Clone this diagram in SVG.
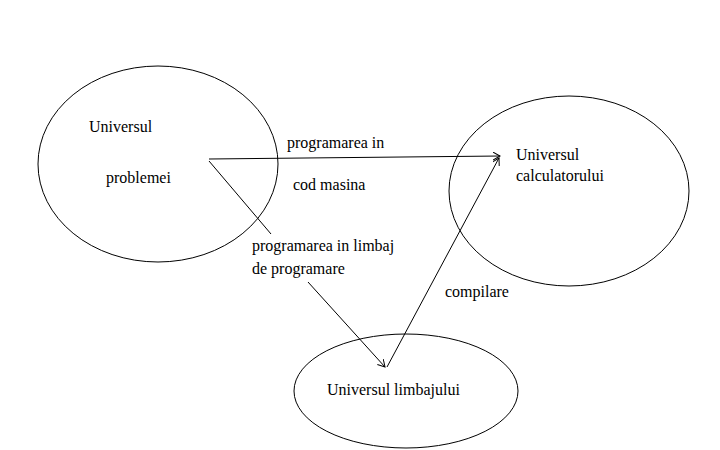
<svg xmlns="http://www.w3.org/2000/svg" width="720" height="450" viewBox="0 0 720 450">
<style>
.n{fill:none;stroke:#000;stroke-width:1}
.c{fill:none;stroke:#000;stroke-width:1}
.t{font-family:'Liberation Serif','DejaVu Serif',serif;font-size:16px;fill:#000}
</style>
<defs>
<marker id="a" markerWidth="10" markerHeight="10" refX="7" refY="4" orient="auto" markerUnits="userSpaceOnUse">
<polyline points="0,0 7,4 0,8" fill="none" stroke="#000" stroke-width="1"/>
</marker>
</defs>
<rect width="720" height="450" fill="#fff"/>
<g id="problemei" class="t">
<ellipse class="n" cx="158" cy="164" rx="120" ry="98"/>
<text x="89" y="132" font-family="Liberation Serif, serif">Universul</text>
<text x="106" y="183" font-family="Liberation Serif, serif">problemei</text>
</g>
<g id="calculatorului" class="t">
<ellipse class="n" cx="569" cy="191" rx="120" ry="95"/>
<text x="516" y="160" font-family="Liberation Serif, serif">Universul</text>
<text x="516" y="181" font-family="Liberation Serif, serif">calculatorului</text>
</g>
<g id="limbajului" class="t">
<ellipse class="n" cx="406" cy="391" rx="112" ry="57"/>
<text x="327" y="395" font-family="Liberation Serif, serif">Universul limbajului</text>
</g>
<g id="connectors">
<line class="c" x1="209" y1="159" x2="500" y2="156" marker-end="url(#a)"/>
<line class="c" x1="209" y1="161" x2="271" y2="234"/>
<line class="c" x1="308" y1="282" x2="385" y2="367" marker-end="url(#a)"/>
<line class="c" x1="387" y1="367" x2="499" y2="158" marker-end="url(#a)"/>
<g class="t">
<text x="287" y="148" font-family="Liberation Serif, serif">programarea in</text>
<text x="293" y="190" font-family="Liberation Serif, serif">cod masina</text>
<text x="252" y="251" font-family="Liberation Serif, serif">programarea in limbaj</text>
<text x="252" y="274" font-family="Liberation Serif, serif">de programare</text>
<text x="445" y="297" font-family="Liberation Serif, serif">compilare</text>
</g>
</g>
</svg>
